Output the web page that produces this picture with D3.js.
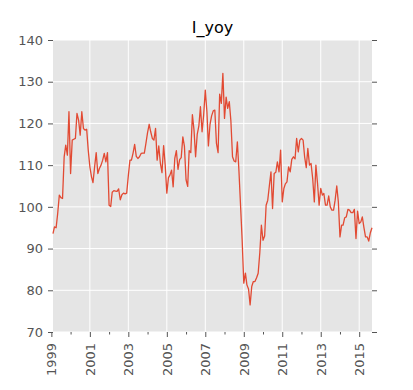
<!DOCTYPE html>
<html>
<head>
<meta charset="utf-8">
<script src="https://cdn.jsdelivr.net/npm/d3@7"></script>
<style>
  html, body { margin: 0; padding: 0; background: #fff; }
  svg { display: block; font-family: "DejaVu Sans", sans-serif; }
</style>
</head>
<body>
<svg id="chart"></svg>
<script>
// monthly series, first point 1999-02, one row per year
const startYear = 1999, startMonth = 1; // month index 0-based (Feb)
const values = [
  93.6, 95.2, 95.0, 98.4, 102.8, 102.2, 102.0, 112.0, 114.8, 112.4, 122.8,
  108.0, 116.0, 116.2, 116.4, 122.4, 120.8, 117.2, 122.8, 118.8, 118.4, 118.6, 113.6,
  109.6, 107.2, 105.8, 109.6, 113.0, 108.0, 109.2, 110.0, 111.2, 112.8, 110.8, 113.0,
  100.4, 100.1, 103.5, 103.9, 103.8, 103.7, 104.3, 101.7, 102.9, 103.3, 103.1, 103.3,
  107.5, 111.2, 111.2, 112.9, 115.0, 112.1, 111.6, 112.0, 112.8, 112.9, 112.9, 115.2,
  117.8, 119.8, 118.0, 116.4, 116.0, 118.8, 111.2, 114.6, 110.4, 108.2, 114.7, 110.0,
  103.3, 107.0, 107.6, 108.8, 104.8, 111.6, 113.5, 109.0, 111.3, 111.8, 116.8, 114.5,
  106.5, 104.9, 113.5, 113.0, 122.1, 118.4, 112.0, 117.4, 119.4, 124.0, 118.0, 122.0,
  128.0, 122.8, 114.6, 119.8, 121.8, 123.0, 123.2, 115.2, 113.0, 127.0, 124.8, 132.0,
  121.2, 126.3, 123.6, 125.2, 120.6, 112.0, 111.0, 110.8, 115.6, 108.6, 100.2, 92.0,
  81.7, 84.1, 81.3, 80.3, 76.5, 80.9, 82.1, 82.1, 83.0, 84.1, 89.0, 95.6,
  92.0, 93.0, 100.4, 101.6, 105.0, 108.4, 99.6, 108.0, 108.3, 110.8, 108.4, 113.6,
  101.2, 104.4, 105.5, 106.0, 109.6, 108.4, 111.4, 112.0, 111.5, 116.4, 113.2, 116.0,
  116.4, 116.0, 112.0, 109.4, 114.0, 110.0, 110.4, 106.8, 101.2, 110.0, 105.6, 100.4,
  104.4, 102.8, 103.2, 100.4, 100.4, 102.6, 100.0, 99.2, 99.2, 101.6, 105.0, 101.2,
  92.8, 95.6, 95.6, 97.4, 97.6, 99.4, 99.2, 98.6, 98.6, 99.4, 92.4, 99.0,
  96.0, 96.4, 97.6, 95.0, 92.8, 92.8, 91.8, 93.8, 95.0
];
const yTicks = [70, 80, 90, 100, 110, 120, 130, 140];
const xMajorYears = [1999, 2001, 2003, 2005, 2007, 2009, 2011, 2013, 2015];
const xMinorYears = [2000, 2002, 2004, 2006, 2008, 2010, 2012, 2014];
const title = "I_yoy";

const width = 413, height = 390;
const margin = { top: 40, right: 41, bottom: 58, left: 53 };
const w = width - margin.left - margin.right;
const h = height - margin.top - margin.bottom;

const data = values.map((v, i) => ({ date: new Date(startYear, startMonth + i, 1), value: v }));

const svg = d3.select("#chart").attr("width", width).attr("height", height);

const x = d3.scaleTime()
  .domain(d3.extent(data, d => d.date))
  .range([0, w]);
const y = d3.scaleLinear().domain([70, 140]).range([h, 0]);

const g = svg.append("g").attr("transform", `translate(${margin.left},${margin.top})`);

g.append("rect").attr("width", w).attr("height", h).attr("fill", "#e5e5e5");

// grid
g.selectAll(".gy").data(yTicks).enter().append("line")
  .attr("x1", 0).attr("x2", w)
  .attr("y1", d => y(d)).attr("y2", d => y(d))
  .attr("stroke", "#fff").attr("stroke-width", 1);
g.selectAll(".gx").data(xMajorYears.filter(yr => x(new Date(yr, 0, 1)) > 0)).enter().append("line")
  .attr("x1", d => x(new Date(d, 0, 1))).attr("x2", d => x(new Date(d, 0, 1)))
  .attr("y1", 0).attr("y2", h)
  .attr("stroke", "#fff").attr("stroke-width", 1);

// line
const line = d3.line().x(d => x(d.date)).y(d => y(d.value));
g.append("path").datum(data)
  .attr("d", line)
  .attr("fill", "none")
  .attr("stroke", "#e24a33")
  .attr("stroke-width", 1.3)
  .attr("stroke-linejoin", "round");

// axes
const yAxis = g.append("g")
  .call(d3.axisLeft(y).tickValues(yTicks).tickSize(5).tickPadding(5));
g.append("g").attr("transform", `translate(${w},0)`)
  .call(d3.axisRight(y).tickValues(yTicks).tickSize(5).tickFormat(""));

const xAxis = g.append("g").attr("transform", `translate(0,${h})`)
  .call(d3.axisBottom(x).tickValues(xMajorYears.map(yr => new Date(yr, 0, 1)))
    .tickSize(5).tickFormat(d3.timeFormat("%Y")));
g.append("g").attr("transform", `translate(0,${h})`)
  .call(d3.axisBottom(x).tickValues(xMinorYears.map(yr => new Date(yr, 0, 1)))
    .tickSize(2.5).tickFormat(""));

xAxis.selectAll("text")
  .attr("transform", "rotate(-90)")
  .attr("text-anchor", "end")
  .attr("x", -11).attr("y", 0).attr("dy", "0.35em");

g.selectAll(".domain").remove();
g.selectAll(".tick line").attr("stroke", "#555");
g.selectAll(".tick text").attr("fill", "#555").style("font-size", "13px")
  .style("font-family", "DejaVu Sans, sans-serif");

svg.append("text")
  .attr("x", margin.left + w / 2).attr("y", 33)
  .attr("text-anchor", "middle")
  .style("font-size", "16px")
  .attr("fill", "#000")
  .text(title);
</script>
</body>
</html>
